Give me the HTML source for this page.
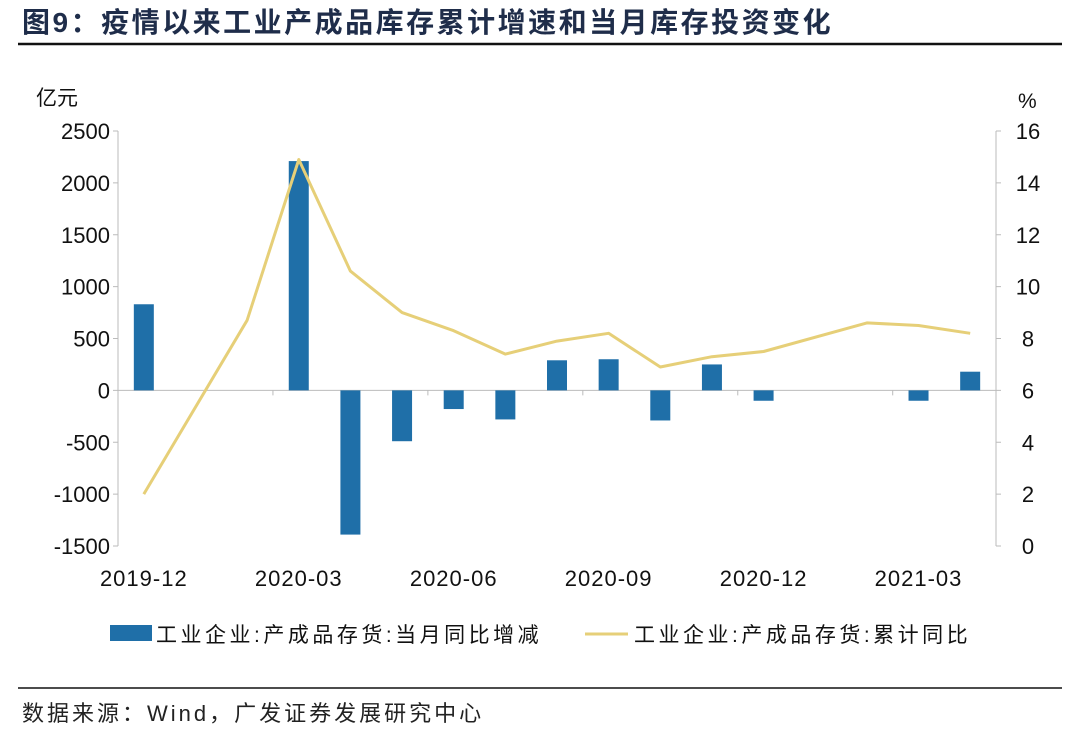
<!DOCTYPE html>
<html><head><meta charset="utf-8">
<style>
body{margin:0;background:#fff;width:1080px;height:735px;overflow:hidden;font-family:"Liberation Sans","Noto Sans CJK SC",sans-serif;}
svg text{font-family:"Liberation Sans","Noto Sans CJK SC",sans-serif;}
</style></head>
<body>
<svg id="c" width="1080" height="735">
<text x="22" y="32" font-size="28" font-weight="bold" letter-spacing="2.5" fill="#1f2d4a">图9：疫情以来工业产成品库存累计增速和当月库存投资变化</text>
<line x1="18" y1="44" x2="1062" y2="44" stroke="#111" stroke-width="2.5"/>
<text x="36" y="105" font-size="21" fill="#111">亿元</text>
<text x="1018" y="108" font-size="21" fill="#111">%</text>
<g id="plot"></g>
<rect x="110" y="625" width="42" height="16" fill="#1f6fa8"/>
<text x="156" y="642" font-size="21" letter-spacing="3.5" fill="#111">工业企业:产成品存货:当月同比增减</text>
<line x1="585" y1="634" x2="628" y2="634" stroke="#e6cf78" stroke-width="3"/>
<text x="634" y="642" font-size="21" letter-spacing="3.5" fill="#111">工业企业:产成品存货:累计同比</text>
<line x1="18" y1="688" x2="1062" y2="688" stroke="#111" stroke-width="1.5"/>
<text x="22" y="721" font-size="22" letter-spacing="3" fill="#222">数据来源：Wind，广发证券发展研究中心</text>
</svg>
<script>
const months = ["2019-12","2020-01","2020-02","2020-03","2020-04","2020-05","2020-06","2020-07","2020-08","2020-09","2020-10","2020-11","2020-12","2021-01","2021-02","2021-03","2021-04"];
const barValues = [830,null,null,2210,-1390,-490,-180,-280,290,300,-290,250,-100,null,null,-100,180];
const lineValues = [2.0,null,8.7,14.9,10.6,9.0,8.3,7.4,7.9,8.2,6.9,7.3,7.5,null,8.6,8.5,8.2];
const leftTicks = [2500,2000,1500,1000,500,0,-500,-1000,-1500];
const rightTicks = [16,14,12,10,8,6,4,2,0];
const xTickLabels = ["2019-12","2020-03","2020-06","2020-09","2020-12","2021-03"];

const NS="http://www.w3.org/2000/svg";
const g=document.getElementById('plot');
const X0=118,X1=996,Y0=131,Y1=546;
const slot=(X1-X0)/months.length;
const xc=i=>X0+slot*(i+0.5);
const yL=v=>Y0+(2500-v)/4000*(Y1-Y0);
const yR=v=>Y0+(16-v)/16*(Y1-Y0);
function el(t,a){const e=document.createElementNS(NS,t);for(const k in a)e.setAttribute(k,a[k]);g.appendChild(e);return e;}
let ax=el('line',{x1:X0,y1:Y0,x2:X0,y2:Y1,stroke:'#bbb'});


let ax2=el('line',{x1:X1,y1:Y0,x2:X1,y2:Y1,stroke:'#bbb'});


let xa=el('line',{x1:X0,y1:yL(0),x2:X1,y2:yL(0),stroke:'#bbb'});


leftTicks.forEach(v=>{const t=el('text',{x:X0-8,y:yL(v)+8,'text-anchor':'end','font-size':22,fill:'#111'});t.textContent=v;


el('line',{x1:X0-5,y1:yL(v),x2:X0,y2:yL(v),stroke:'#bbb'});});
rightTicks.forEach(v=>{const t=el('text',{x:X1+32,y:yR(v)+8,'text-anchor':'middle','font-size':22,fill:'#111'});t.textContent=v;


el('line',{x1:X1,y1:yR(v),x2:X1+5,y2:yR(v),stroke:'#bbb'});});
for(let i=0;i<=months.length;i++){if(i%3===0||i===months.length){el('line',{x1:X0+slot*i,y1:yL(0),x2:X0+slot*i,y2:yL(0)+5,stroke:'#bbb'});}}
xTickLabels.forEach(m=>{const i=months.indexOf(m);const t=el('text',{x:xc(i),y:586,'text-anchor':'middle','font-size':22,'letter-spacing':1,fill:'#111'});t.textContent=m;

});
barValues.forEach((v,i)=>{if(v===null)return;const y=Math.min(yL(v),yL(0)),h=Math.abs(yL(v)-yL(0));
const r=el('rect',{x:xc(i)-10,y:y,width:20,height:h,fill:'#1f6fa8'});

});
const pts=[];lineValues.forEach((v,i)=>{if(v!==null)pts.push(xc(i).toFixed(1)+','+yR(v).toFixed(1));});
const p=el('polyline',{points:pts.join(' '),fill:'none',stroke:'#e6cf78','stroke-width':3,'stroke-linejoin':'round'});


</script>
</body></html>
